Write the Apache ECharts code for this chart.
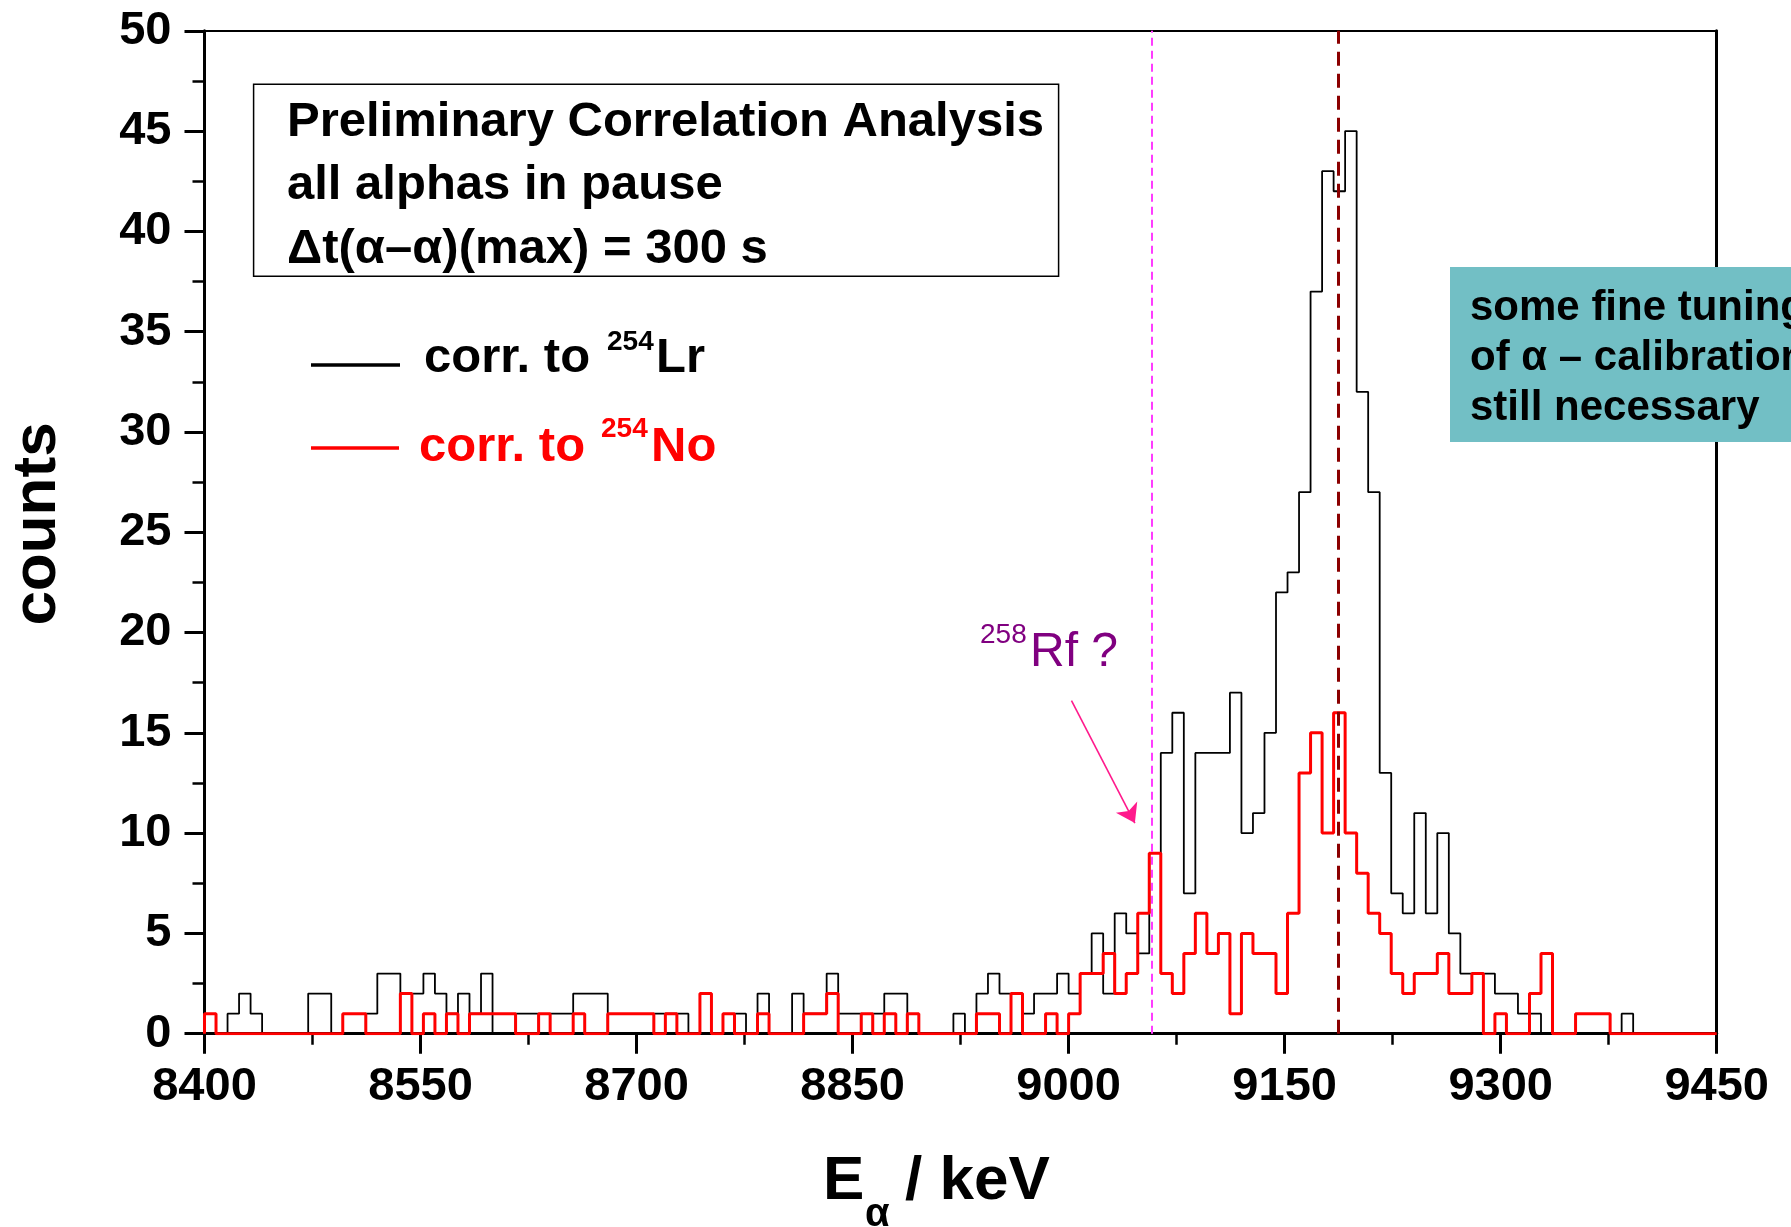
<!DOCTYPE html>
<html><head><meta charset="utf-8">
<script src="https://cdn.jsdelivr.net/npm/echarts@6/dist/echarts.min.js"></script>
<style>html,body{margin:0;padding:0;background:#fff}#c{width:1791px;height:1227px}</style>
</head><body><div id="c"></div>
<script>
// ---- data ----
const binStart = 8400;      // keV, left edge of first bin
const binWidth = 8;         // keV per bin
const xMin = 8400, xMax = 9450, xInterval = 150;
const yMin = 0, yMax = 50, yInterval = 5;

// counts correlated to 254Lr (black), one value per 8 keV bin from 8400 keV
const countsLr = [
  0,0,1,2,1,0,0,0,0,2,
  2,0,0,0,1,3,3,2,2,3,
  2,1,2,1,3,0,0,1,1,0,
  1,1,2,2,2,0,0,0,0,1,
  1,1,0,0,0,0,1,0,2,0,
  0,2,1,1,3,1,1,0,1,2,
  2,0,0,0,0,1,0,2,3,2,
  0,1,2,2,3,2,3,5,2,6,
  5,4,9,14,16,7,14,14,14,17,
  10,11,15,22,23,27,37,43,42,45,
  32,27,13,7,6,11,6,10,5,3,
  3,3,2,2,1,1,0,0,0,0,
  0,0,0,1,0,0,0,0,0,0,
  0
];
// counts correlated to 254No (red)
const countsNo = [
  1,0,0,0,0,0,0,0,0,0,
  0,0,1,1,0,0,0,2,0,1,
  0,1,0,1,1,1,1,0,0,1,
  0,0,1,0,0,1,1,1,1,0,
  1,0,0,2,0,1,0,0,1,0,
  0,0,1,1,2,0,0,1,0,1,
  0,1,0,0,0,0,0,1,1,0,
  2,0,0,1,0,1,3,3,4,2,
  3,6,9,3,2,4,6,4,5,1,
  5,4,4,2,6,13,15,10,16,10,
  8,6,5,3,2,3,3,4,2,2,
  3,0,1,0,0,2,4,0,0,1,
  1,1,0,0,0,0,0,0,0,0,
  0
];
const rfLineE = 9057.5;   // magenta dashed marker (keV)
const lrLineE = 9187.5;   // dark red dashed marker (keV)
const arrowFrom = [9002, 16.6];
const arrowTo = [9046, 10.5];

// ---- build step data ----
function hist(counts){
  const d = [[binStart, 0]];
  for (let i = 0; i < counts.length; i++) d.push([binStart + i*binWidth, counts[i]]);
  d.push([binStart + counts.length*binWidth, 0]);
  d.push([xMax, 0]);
  return d;
}

const FONT = '"Liberation Sans", Arial, Helvetica, sans-serif';
const chart = echarts.init(document.getElementById('c'), null, {renderer:'canvas', width:1791, height:1227});

const axisCommon = {
  splitLine:{show:false},
  axisLine:{onZero:false, lineStyle:{color:'#000', width:3}},
};

const option = {
  animation:false,
  backgroundColor:'#fff',
  grid:{left:204.5, right:74.3, top:30.8, bottom:193.3, containLabel:false},
  xAxis:[
    Object.assign({}, axisCommon, {
      type:'value', min:xMin, max:xMax, interval:xInterval, position:'bottom',
      axisTick:{show:true, length:20, lineStyle:{color:'#000', width:3}},
      minorTick:{show:true, splitNumber:2, length:11, lineStyle:{color:'#000', width:2.5}},
      axisLabel:{fontFamily:FONT, fontWeight:'bold', fontSize:47, color:'#000', margin:30,
        formatter:function(v){return String(v);}}
    }),
    {type:'value', min:xMin, max:xMax, position:'top', splitLine:{show:false},
      axisLine:{show:true, onZero:false, lineStyle:{color:'#000', width:2}},
      axisTick:{show:false}, axisLabel:{show:false}}
  ],
  yAxis:[
    Object.assign({}, axisCommon, {
      type:'value', min:yMin, max:yMax, interval:yInterval, position:'left',
      axisTick:{show:true, length:20, lineStyle:{color:'#000', width:3}},
      minorTick:{show:true, splitNumber:2, length:12, lineStyle:{color:'#000', width:2.5}},
      axisLabel:{fontFamily:FONT, fontWeight:'bold', fontSize:47, color:'#000', margin:33,
        formatter:function(v){return String(v);}}
    }),
    {type:'value', min:yMin, max:yMax, position:'right', splitLine:{show:false},
      axisLine:{show:true, onZero:false, lineStyle:{color:'#000', width:3}},
      axisTick:{show:false}, axisLabel:{show:false}}
  ],
  series:[
    {
      name:'corr. to 254Lr', type:'line', step:'end', data:hist(countsLr),
      xAxisIndex:0, yAxisIndex:0, symbol:'none', z:3,
      lineStyle:{color:'#000', width:1.8},
      markLine:{
        silent:true, symbol:'none', label:{show:false}, animation:false,
        data:[
          {xAxis:rfLineE, lineStyle:{color:'#ff3cff', width:2, type:[8,5]}},
          {xAxis:lrLineE, lineStyle:{color:'#8b0000', width:3, type:[14,8]}}
        ]
      }
    },
    {
      name:'corr. to 254No', type:'line', step:'end', data:hist(countsNo),
      xAxisIndex:0, yAxisIndex:0, symbol:'none', z:4,
      lineStyle:{color:'#ff0000', width:3},
      markLine:{
        silent:true, symbol:['none','arrow'], symbolSize:18, label:{show:false}, animation:false,
        lineStyle:{color:'#ff1a8c', width:1.6, type:'solid'},
        data:[[{coord:arrowFrom}, {coord:arrowTo}]]
      }
    }
  ],
  graphic:[
    // info box
    {type:'rect', z:10, shape:{x:253.6, y:84.3, width:805, height:192}, style:{fill:'#fff', stroke:'#000', lineWidth:1.5}},
    {type:'text', z:11, x:287, y:122, style:{text:'Preliminary Correlation Analysis', font:'bold 49px '+FONT, fill:'#000', verticalAlign:'middle'}},
    {type:'text', z:11, x:287, y:185, style:{text:'all alphas in pause', font:'bold 49px '+FONT, fill:'#000', verticalAlign:'middle'}},
    {type:'text', z:11, x:287, y:249, style:{text:'\u0394t(\u03b1\u2013\u03b1)(max) = 300 s', font:'bold 49px '+FONT, fill:'#000', verticalAlign:'middle'}},
    // legend
    {type:'line', z:10, shape:{x1:311, y1:365, x2:400, y2:365}, style:{stroke:'#000', lineWidth:3.5}},
    {type:'text', z:11, x:424, y:358.5, style:{text:'corr. to', font:'bold 49px '+FONT, fill:'#000', verticalAlign:'middle'}},
    {type:'text', z:11, x:607, y:342, style:{text:'254', font:'bold 28px '+FONT, fill:'#000', verticalAlign:'middle'}},
    {type:'text', z:11, x:656, y:358.5, style:{text:'Lr', font:'bold 49px '+FONT, fill:'#000', verticalAlign:'middle'}},
    {type:'line', z:10, shape:{x1:311, y1:448, x2:399, y2:448}, style:{stroke:'#ff0000', lineWidth:3.5}},
    {type:'text', z:11, x:419, y:447, style:{text:'corr. to', font:'bold 49px '+FONT, fill:'#ff0000', verticalAlign:'middle'}},
    {type:'text', z:11, x:601, y:429, style:{text:'254', font:'bold 28px '+FONT, fill:'#ff0000', verticalAlign:'middle'}},
    {type:'text', z:11, x:651, y:447, style:{text:'No', font:'bold 49px '+FONT, fill:'#ff0000', verticalAlign:'middle'}},
    // teal note
    {type:'rect', z:10, shape:{x:1450, y:267, width:400, height:175}, style:{fill:'#72bfc5'}},
    {type:'text', z:11, x:1470, y:308.7, style:{text:'some fine tuning', font:'bold 42px '+FONT, fill:'#000', verticalAlign:'middle'}},
    {type:'text', z:11, x:1470, y:358.7, style:{text:'of \u03b1 \u2013 calibration', font:'bold 42px '+FONT, fill:'#000', verticalAlign:'middle'}},
    {type:'text', z:11, x:1470, y:408.7, style:{text:'still necessary', font:'bold 42px '+FONT, fill:'#000', verticalAlign:'middle'}},
    // 258Rf ?
    {type:'text', z:11, x:980, y:635, style:{text:'258', font:'28px '+FONT, fill:'#800080', verticalAlign:'middle'}},
    {type:'text', z:11, x:1030, y:652.5, style:{text:'Rf ?', font:'48px '+FONT, fill:'#800080', verticalAlign:'middle'}},
    // axis titles
    {type:'text', z:11, x:823, y:1182, style:{text:'E', font:'bold 62px '+FONT, fill:'#000', verticalAlign:'middle'}},
    {type:'text', z:11, x:865, y:1215, style:{text:'\u03b1', font:'bold 40px '+FONT, fill:'#000', verticalAlign:'middle'}},
    {type:'text', z:11, x:905, y:1182, style:{text:'/ keV', font:'bold 62px '+FONT, fill:'#000', verticalAlign:'middle'}},
    {type:'text', z:11, x:38, y:524, rotation:Math.PI/2, style:{text:'counts', font:'bold 62px '+FONT, fill:'#000', align:'center', verticalAlign:'middle'}}
  ]
};
chart.setOption(option);
</script>
</body></html>
